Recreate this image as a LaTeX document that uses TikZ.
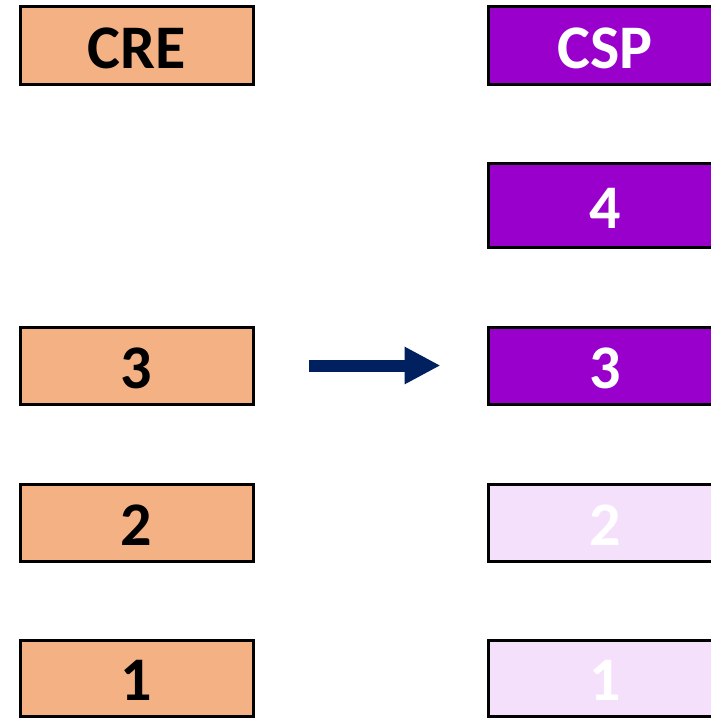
\documentclass[tikz,border=0pt]{standalone}
\usepackage{fontspec}
\setmainfont{Carlito}
\usetikzlibrary{arrows.meta}
\definecolor{creorange}{HTML}{F4B183}
\definecolor{csppurple}{HTML}{9900CC}
\definecolor{csplight}{HTML}{F5E0FC}
\definecolor{navy}{HTML}{002060}
\tikzset{
  cell/.style={draw=black, line width=3pt, minimum width=233pt, inner sep=0pt, outer sep=0pt,
    text height=45pt, text depth=0pt,
    font=\fontsize{62}{62}\selectfont\bfseries},
  crecell/.style={cell, fill=creorange, text=black},
  cspcell/.style={cell, fill=csppurple, text=white},
  csplightcell/.style={cell, fill=csplight, text=white},
  moveto/.style={draw=navy, line width=12pt, -{Triangle[length=36pt,width=35pt]}}
}
\begin{document}
\begin{tikzpicture}[x=1pt,y=-1pt]
\useasboundingbox (0,0) rectangle (710,718);
% left column
\node[crecell, minimum height=78pt] (cre) at (136.5,45.5) {CRE};
\node[crecell, minimum height=77pt] (l3) at (136.5,365.5) {3};
\node[crecell, minimum height=77pt] (l2) at (136.5,522.5) {2};
\node[crecell, minimum height=76pt] (l1) at (136.5,678) {1};
% right column
\node[cspcell, minimum height=78pt] (csp) at (605,45.5) {CSP};
\node[cspcell, minimum height=84pt] (r4) at (605,205.5) {4};
\node[cspcell, minimum height=77pt] (r3) at (605,365.5) {3};
\node[csplightcell, minimum height=77pt] (r2) at (605,522.5) {2};
\node[csplightcell, minimum height=76pt] (r1) at (605,678) {1};
% transfer arrow
\draw[moveto, shorten <=56pt, shorten >=48pt] (l3.east) -- (r3.west);
\end{tikzpicture}
\end{document}
